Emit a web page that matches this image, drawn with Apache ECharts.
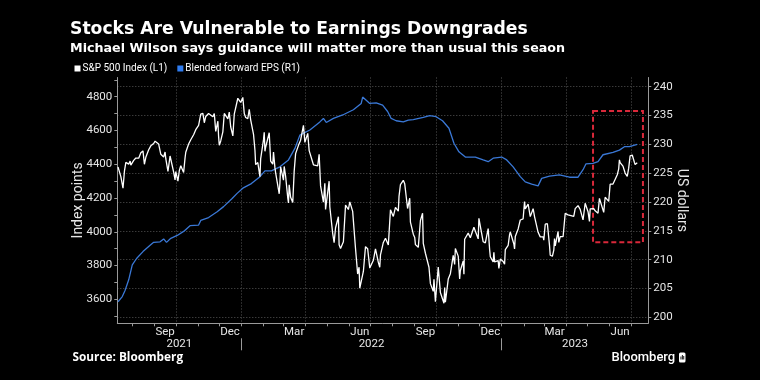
<!DOCTYPE html>
<html>
<head>
<meta charset="utf-8">
<script src="https://cdn.jsdelivr.net/npm/echarts@6/dist/echarts.min.js"></script>
<style>
  html, body { margin: 0; padding: 0; background: #000; }
  #chart { width: 760px; height: 380px; }
</style>
</head>
<body>
<div id="chart"></div>
<script>
// ---------------- DATA ----------------
const spxDates = [
  '2021-07-12','2021-07-14','2021-07-16','2021-07-19','2021-07-21','2021-07-23','2021-07-27','2021-07-29','2021-07-30',
  '2021-08-03','2021-08-06','2021-08-10','2021-08-13','2021-08-16','2021-08-18','2021-08-20','2021-08-24','2021-08-27','2021-08-31',
  '2021-09-02','2021-09-07','2021-09-10','2021-09-14','2021-09-16','2021-09-17','2021-09-20','2021-09-23','2021-09-24','2021-09-28','2021-09-30',
  '2021-10-01','2021-10-04','2021-10-06','2021-10-08','2021-10-12','2021-10-14','2021-10-15','2021-10-19','2021-10-22','2021-10-26','2021-10-29',
  '2021-11-02','2021-11-05','2021-11-08','2021-11-10','2021-11-12','2021-11-16','2021-11-18','2021-11-22','2021-11-24','2021-11-26','2021-11-29','2021-11-30',
  '2021-12-01','2021-12-03','2021-12-06','2021-12-08','2021-12-10','2021-12-13','2021-12-15','2021-12-17','2021-12-20','2021-12-22','2021-12-27','2021-12-29','2021-12-31',
  '2022-01-03','2022-01-04','2022-01-05','2022-01-07','2022-01-10','2022-01-12','2022-01-14','2022-01-18','2022-01-20','2022-01-21','2022-01-24','2022-01-27','2022-01-28',
  '2022-02-01','2022-02-02','2022-02-03','2022-02-04','2022-02-09','2022-02-10','2022-02-11','2022-02-14','2022-02-15','2022-02-17','2022-02-18','2022-02-23','2022-02-24','2022-02-25',
  '2022-03-01','2022-03-02','2022-03-04','2022-03-07','2022-03-08','2022-03-09','2022-03-11','2022-03-14','2022-03-16','2022-03-18','2022-03-22','2022-03-25','2022-03-29','2022-03-31',
  '2022-04-04','2022-04-06','2022-04-08','2022-04-12','2022-04-14','2022-04-18','2022-04-20','2022-04-22','2022-04-26','2022-04-28','2022-04-29',
  '2022-05-04','2022-05-05','2022-05-09','2022-05-11','2022-05-12','2022-05-13','2022-05-17','2022-05-18','2022-05-20','2022-05-24','2022-05-27','2022-05-31',
  '2022-06-02','2022-06-06','2022-06-08','2022-06-10','2022-06-13','2022-06-15','2022-06-16','2022-06-21','2022-06-24','2022-06-27','2022-06-30',
  '2022-07-05','2022-07-08','2022-07-12','2022-07-14','2022-07-15','2022-07-19','2022-07-22','2022-07-26','2022-07-29',
  '2022-08-02','2022-08-05','2022-08-09','2022-08-10','2022-08-12','2022-08-16','2022-08-18','2022-08-22','2022-08-25','2022-08-26','2022-08-30',
  '2022-09-01','2022-09-02','2022-09-06','2022-09-09','2022-09-12','2022-09-13','2022-09-16','2022-09-21','2022-09-23','2022-09-27','2022-09-28','2022-09-30',
  '2022-10-04','2022-10-07','2022-10-12','2022-10-13','2022-10-14','2022-10-18','2022-10-21','2022-10-25','2022-10-27','2022-10-28',
  '2022-11-01','2022-11-03','2022-11-04','2022-11-08','2022-11-09','2022-11-10','2022-11-15','2022-11-18','2022-11-23','2022-11-25','2022-11-29','2022-11-30',
  '2022-12-02','2022-12-06','2022-12-09','2022-12-13','2022-12-15','2022-12-16','2022-12-20','2022-12-21','2022-12-22','2022-12-27','2022-12-28','2022-12-30',
  '2023-01-03','2023-01-05','2023-01-06','2023-01-10','2023-01-12','2023-01-13','2023-01-18','2023-01-19','2023-01-20','2023-01-24','2023-01-27','2023-01-31',
  '2023-02-02','2023-02-03','2023-02-07','2023-02-10','2023-02-14','2023-02-16','2023-02-17','2023-02-21','2023-02-24','2023-02-28',
  '2023-03-01','2023-03-03','2023-03-06','2023-03-09','2023-03-10','2023-03-13','2023-03-15','2023-03-16','2023-03-17','2023-03-21','2023-03-22','2023-03-24','2023-03-28','2023-03-31',
  '2023-04-04','2023-04-06','2023-04-12','2023-04-14','2023-04-18','2023-04-21','2023-04-25','2023-04-28',
  '2023-05-02','2023-05-04','2023-05-05','2023-05-10','2023-05-12','2023-05-16','2023-05-18','2023-05-19','2023-05-24','2023-05-26','2023-05-31',
  '2023-06-02','2023-06-06','2023-06-08','2023-06-12','2023-06-14','2023-06-15','2023-06-16','2023-06-20','2023-06-23','2023-06-26','2023-06-28','2023-06-30',
  '2023-07-03','2023-07-05','2023-07-06','2023-07-07','2023-07-10'
];
const spxValues = [
  4384,4374,4327,4258,4359,4411,4401,4419,4395,
  4423,4437,4436,4468,4479,4400,4441,4486,4509,4523,
  4537,4520,4459,4443,4473,4433,4358,4449,4455,4353,4307,
  4357,4300,4363,4391,4351,4438,4471,4520,4545,4575,4605,
  4631,4697,4702,4646,4683,4701,4704,4682,4701,4595,4655,4567,
  4513,4538,4592,4701,4712,4669,4709,4621,4568,4697,4791,4793,4766,
  4796,4794,4701,4677,4670,4726,4663,4577,4483,4398,4410,4326,4432,
  4546,4589,4477,4501,4587,4504,4419,4401,4472,4380,4349,4225,4288,4385,
  4306,4387,4329,4201,4171,4278,4204,4173,4358,4463,4512,4543,4631,4530,
  4583,4481,4488,4397,4392,4391,4459,4272,4175,4288,4132,
  4300,4147,3991,3935,3930,4024,4089,3923,3901,3941,4158,4132,
  4177,4121,4115,3901,3750,3790,3666,3765,3912,3900,3785,
  3831,3899,3819,3790,3863,3937,3962,3922,4130,
  4091,4145,4122,4210,4280,4305,4284,4138,4199,4057,3986,
  3966,3924,3908,4067,4110,3932,3873,3790,3693,3647,3719,3586,
  3791,3640,3577,3670,3583,3720,3752,3860,3807,3901,
  3856,3720,3771,3828,3749,3956,3992,3965,4027,4026,3958,4080,
  4072,3941,3934,4019,3896,3852,3821,3879,3822,3829,3783,3839,
  3824,3808,3895,3919,3983,3999,3928,3898,3972,4017,4070,4077,
  4179,4136,4164,4090,4137,4090,4079,3997,3970,3970,
  3951,4045,4048,3918,3861,3855,3891,3960,3917,4002,3937,3971,3971,4109,
  4100,4105,4092,4137,4155,4133,4071,4169,
  4119,4061,4136,4137,4124,4110,4198,4192,4115,4205,4180,
  4282,4283,4294,4338,4373,4426,4410,4389,4348,4328,4377,4450,
  4455,4447,4412,4399,4409
];

const epsDates = [
  '2021-07-12','2021-07-18','2021-07-22','2021-07-27','2021-08-01','2021-08-07','2021-08-16','2021-08-26','2021-08-31',
  '2021-09-09','2021-09-14','2021-09-18','2021-09-24','2021-10-03','2021-10-12','2021-10-21','2021-11-02','2021-11-05','2021-11-16','2021-11-28',
  '2021-12-07','2021-12-19','2021-12-26','2022-01-03','2022-01-15','2022-01-27','2022-02-03','2022-02-12','2022-02-24',
  '2022-03-08','2022-03-17','2022-03-24','2022-04-07','2022-04-21','2022-04-26','2022-04-30','2022-05-10','2022-05-23',
  '2022-06-07','2022-06-18','2022-06-20','2022-06-30','2022-07-09','2022-07-18','2022-07-25','2022-07-30','2022-08-06',
  '2022-08-16','2022-08-23','2022-08-30','2022-09-13','2022-09-22','2022-10-01','2022-10-10','2022-10-19','2022-10-26',
  '2022-11-02','2022-11-11','2022-11-25','2022-12-06','2022-12-13','2022-12-20','2023-01-01','2023-01-08','2023-01-17',
  '2023-01-27','2023-02-03','2023-02-12','2023-02-21','2023-02-26','2023-03-09','2023-03-23','2023-04-06','2023-04-18',
  '2023-04-25','2023-04-29','2023-05-09','2023-05-16','2023-05-23','2023-06-06','2023-06-15','2023-06-22','2023-06-29','2023-07-10'
];
const epsValues = [
  202.7,203.6,204.7,206.5,209.1,210.2,211.4,212.5,213.0,
  213.1,213.6,213.0,213.7,214.2,214.9,215.9,216.0,216.8,217.3,218.3,
  219.2,220.6,221.5,222.4,223.2,224.4,225.4,225.4,226.1,
  227.3,229.3,231.6,232.5,233.9,234.5,233.8,234.5,235.1,
  236.0,237.1,238.2,237.1,237.2,236.8,235.7,234.5,234.1,
  233.9,234.2,234.3,234.7,235.0,234.8,234.1,232.8,230.2,
  228.7,227.8,227.8,227.3,227.0,227.6,227.8,227.3,226.1,
  224.4,223.5,223.1,222.8,224.1,224.5,224.7,224.3,224.3,
  225.6,226.6,226.7,227.0,228.2,228.6,229.0,229.6,229.6,230.0
];

const seriesNames = ['S&P 500 Index (L1)', 'Blended forward EPS (R1)'];
const leftTickLabels = [3600, 3800, 4000, 4200, 4400, 4600, 4800];
const rightTickLabels = [200, 205, 210, 215, 220, 225, 230, 235, 240];
const monthLabels = ['Sep', 'Dec', 'Mar', 'Jun'];
const yearLabels = ['2021', '2022', '2023'];
// highlighted window (red dashed box): dates and EPS-axis bounds
const highlightDates = ['2023-05-09', '2023-07-18'];
const highlightRange = [213.0, 235.8];

// ---------------- LAYOUT HELPERS ----------------
const MONTHS = ['Jan','Feb','Mar','Apr','May','Jun','Jul','Aug','Sep','Oct','Nov','Dec'];
function ts(s) { const p = s.split('-').map(Number); return new Date(p[0], p[1] - 1, p[2] || 1).getTime(); }
const xMin = ts('2021-07-11');
const xMax = ts('2023-07-25') + 12 * 3600 * 1000;

const monthStarts = [], quarterStarts = [], monthMids = [], yearStarts = [];
for (let y = 2021; y <= 2023; y++) {
  for (let m = 0; m < 12; m++) {
    const t = new Date(y, m, 1).getTime();
    if (t > xMin && t < xMax) {
      monthStarts.push(t);
      if (m % 3 === 0) quarterStarts.push(t);
      if (m === 0) yearStarts.push(t);
    }
    const mid = new Date(y, m, 16).getTime();
    if (monthLabels.indexOf(MONTHS[m]) >= 0 && mid > xMin && mid < xMax) monthMids.push(mid);
  }
}
const yearMids = yearLabels.map(function (y) {
  const a = Math.max(xMin, new Date(+y, 0, 1).getTime());
  const b = Math.min(xMax, new Date(+y + 1, 0, 1).getTime());
  return (a + b) / 2;
});
const leftTicks = [];
for (let v = 3500; v <= 4900; v += 100) leftTicks.push(v);

const TFONT = 'DejaVu Sans';
const FONT = 'Roboto';
const AX = '#9a9a9a';
const LBL = '#e6e6e6';
const chart = echarts.init(document.getElementById('chart'), null, { renderer: 'canvas' });

const xBase = { type: 'value', min: xMin, max: xMax, scale: true };

const option = {
  backgroundColor: '#000',
  animation: false,
  textStyle: { fontFamily: FONT },
  title: [
    { text: 'Stocks Are Vulnerable to Earnings Downgrades', left: 70, top: 21.5, padding: 0,
      textStyle: { color: '#fff', fontSize: 17.2, fontWeight: 'bold', fontFamily: TFONT } },
    { text: 'Michael Wilson says guidance will matter more than usual this seaon', left: 70, top: 42, padding: 0,
      textStyle: { color: '#fff', fontSize: 12.7, fontWeight: 'bold', fontFamily: TFONT } },
    { text: 'Source: Bloomberg', left: 72.5, top: 351.5, padding: 0,
      textStyle: { color: '#fff', fontSize: 11.8, fontWeight: 'bold', fontFamily: 'Open Sans' } },
    { text: 'Bloomberg', left: 611.5, top: 351, padding: 0,
      textStyle: { color: '#fff', fontSize: 13, fontWeight: 500, fontFamily: FONT } }
  ],
  legend: {
    left: 74.5, top: 63.5, padding: 0, icon: 'rect', itemWidth: 6, itemHeight: 6, itemGap: 10,
    textStyle: { color: '#fff', fontSize: 10, fontFamily: FONT, padding: [0, 0, 0, -3] },
    data: seriesNames
  },
  graphic: [
    { type: 'group', left: 679, top: 352.5, children: [
      { type: 'rect', shape: { x: 0, y: 0, width: 6.5, height: 10, r: 1.5 }, style: { fill: '#fff' } },
      { type: 'rect', shape: { x: 1.5, y: 4, width: 0.9, height: 3 }, style: { fill: '#000' } },
      { type: 'rect', shape: { x: 2.9, y: 2.5, width: 0.9, height: 4.5 }, style: { fill: '#000' } },
      { type: 'rect', shape: { x: 4.3, y: 3.5, width: 0.9, height: 3.5 }, style: { fill: '#000' } }
    ] }
  ],
  grid: { left: 117.3, right: 111.7, top: 77.5, bottom: 56.7, containLabel: false },
  xAxis: [
    Object.assign({}, xBase, {
      position: 'bottom',
      axisLine: { show: true, lineStyle: { color: AX, width: 1 } },
      axisTick: { show: true, customValues: monthStarts, length: 3, lineStyle: { color: AX } },
      axisLabel: { show: true, customValues: monthMids, margin: 3, color: LBL, fontSize: 11.5, fontFamily: FONT,
        formatter: function (v) { return MONTHS[new Date(v).getMonth()]; } },
      splitLine: { show: false }
    }),
    Object.assign({}, xBase, {
      position: 'top',
      axisLine: { show: false },
      axisTick: { show: false, customValues: quarterStarts },
      axisLabel: { show: false, customValues: quarterStarts },
      splitLine: { show: true, lineStyle: { color: '#555', type: [1, 2], width: 1 } }
    }),
    Object.assign({}, xBase, {
      position: 'bottom', offset: 15,
      axisLine: { show: false },
      axisTick: { show: true, customValues: yearStarts, length: 12, lineStyle: { color: AX } },
      axisLabel: { show: true, customValues: yearMids, margin: 0, color: LBL, fontSize: 11.5, fontFamily: FONT,
        formatter: function (v) { return String(new Date(v).getFullYear()); } },
      splitLine: { show: false }
    })
  ],
  yAxis: [
    {
      type: 'value', min: 3458, max: 4914, position: 'left',
      name: 'Index points', nameLocation: 'middle', nameRotate: 90, nameGap: 32, nameMoveOverlap: false,
      nameTextStyle: { color: LBL, fontSize: 14, fontFamily: FONT },
      axisLine: { show: true, lineStyle: { color: AX } },
      axisTick: { show: true, customValues: leftTicks, length: 3, lineStyle: { color: AX } },
      axisLabel: { show: true, customValues: leftTickLabels, margin: 5, color: LBL, fontSize: 11.5, fontFamily: FONT,
        formatter: function (v) { return String(v); } },
      splitLine: { show: false }
    },
    {
      type: 'value', min: 198.96, max: 241.6, position: 'right',
      name: 'US dollars', nameLocation: 'middle', nameRotate: -90, nameGap: 26, nameMoveOverlap: false,
      nameTextStyle: { color: LBL, fontSize: 14, fontFamily: FONT },
      axisLine: { show: true, lineStyle: { color: AX } },
      axisTick: { show: true, customValues: rightTickLabels, length: 3, lineStyle: { color: AX } },
      axisLabel: { show: true, customValues: rightTickLabels, margin: 5, color: LBL, fontSize: 11.5, fontFamily: FONT,
        formatter: function (v) { return String(v); } },
      splitLine: { show: true, lineStyle: { color: '#555', type: [1, 2], width: 1 } }
    }
  ],
  series: [
    {
      name: seriesNames[0], type: 'line', xAxisIndex: 0, yAxisIndex: 0,
      data: spxDates.map(function (d, i) { return [ts(d), spxValues[i]]; }),
      showSymbol: false, symbol: 'none', z: 3,
      lineStyle: { color: '#ffffff', width: 1.3 },
      itemStyle: { color: '#ffffff' }
    },
    {
      name: seriesNames[1], type: 'line', xAxisIndex: 0, yAxisIndex: 1,
      data: epsDates.map(function (d, i) { return [ts(d), epsValues[i]]; }),
      showSymbol: false, symbol: 'none', z: 2,
      lineStyle: { color: '#3a78d6', width: 1.3 },
      itemStyle: { color: '#2f7cf0' },
      markArea: {
        silent: true,
        itemStyle: { color: 'rgba(0,0,0,0)', borderColor: '#d9283a', borderWidth: 2, borderType: [5, 3] },
        data: [[
          { xAxis: ts(highlightDates[0]), yAxis: highlightRange[1] },
          { xAxis: ts(highlightDates[1]), yAxis: highlightRange[0] }
        ]]
      }
    }
  ]
};
chart.setOption(option);
</script>
</body>
</html>
